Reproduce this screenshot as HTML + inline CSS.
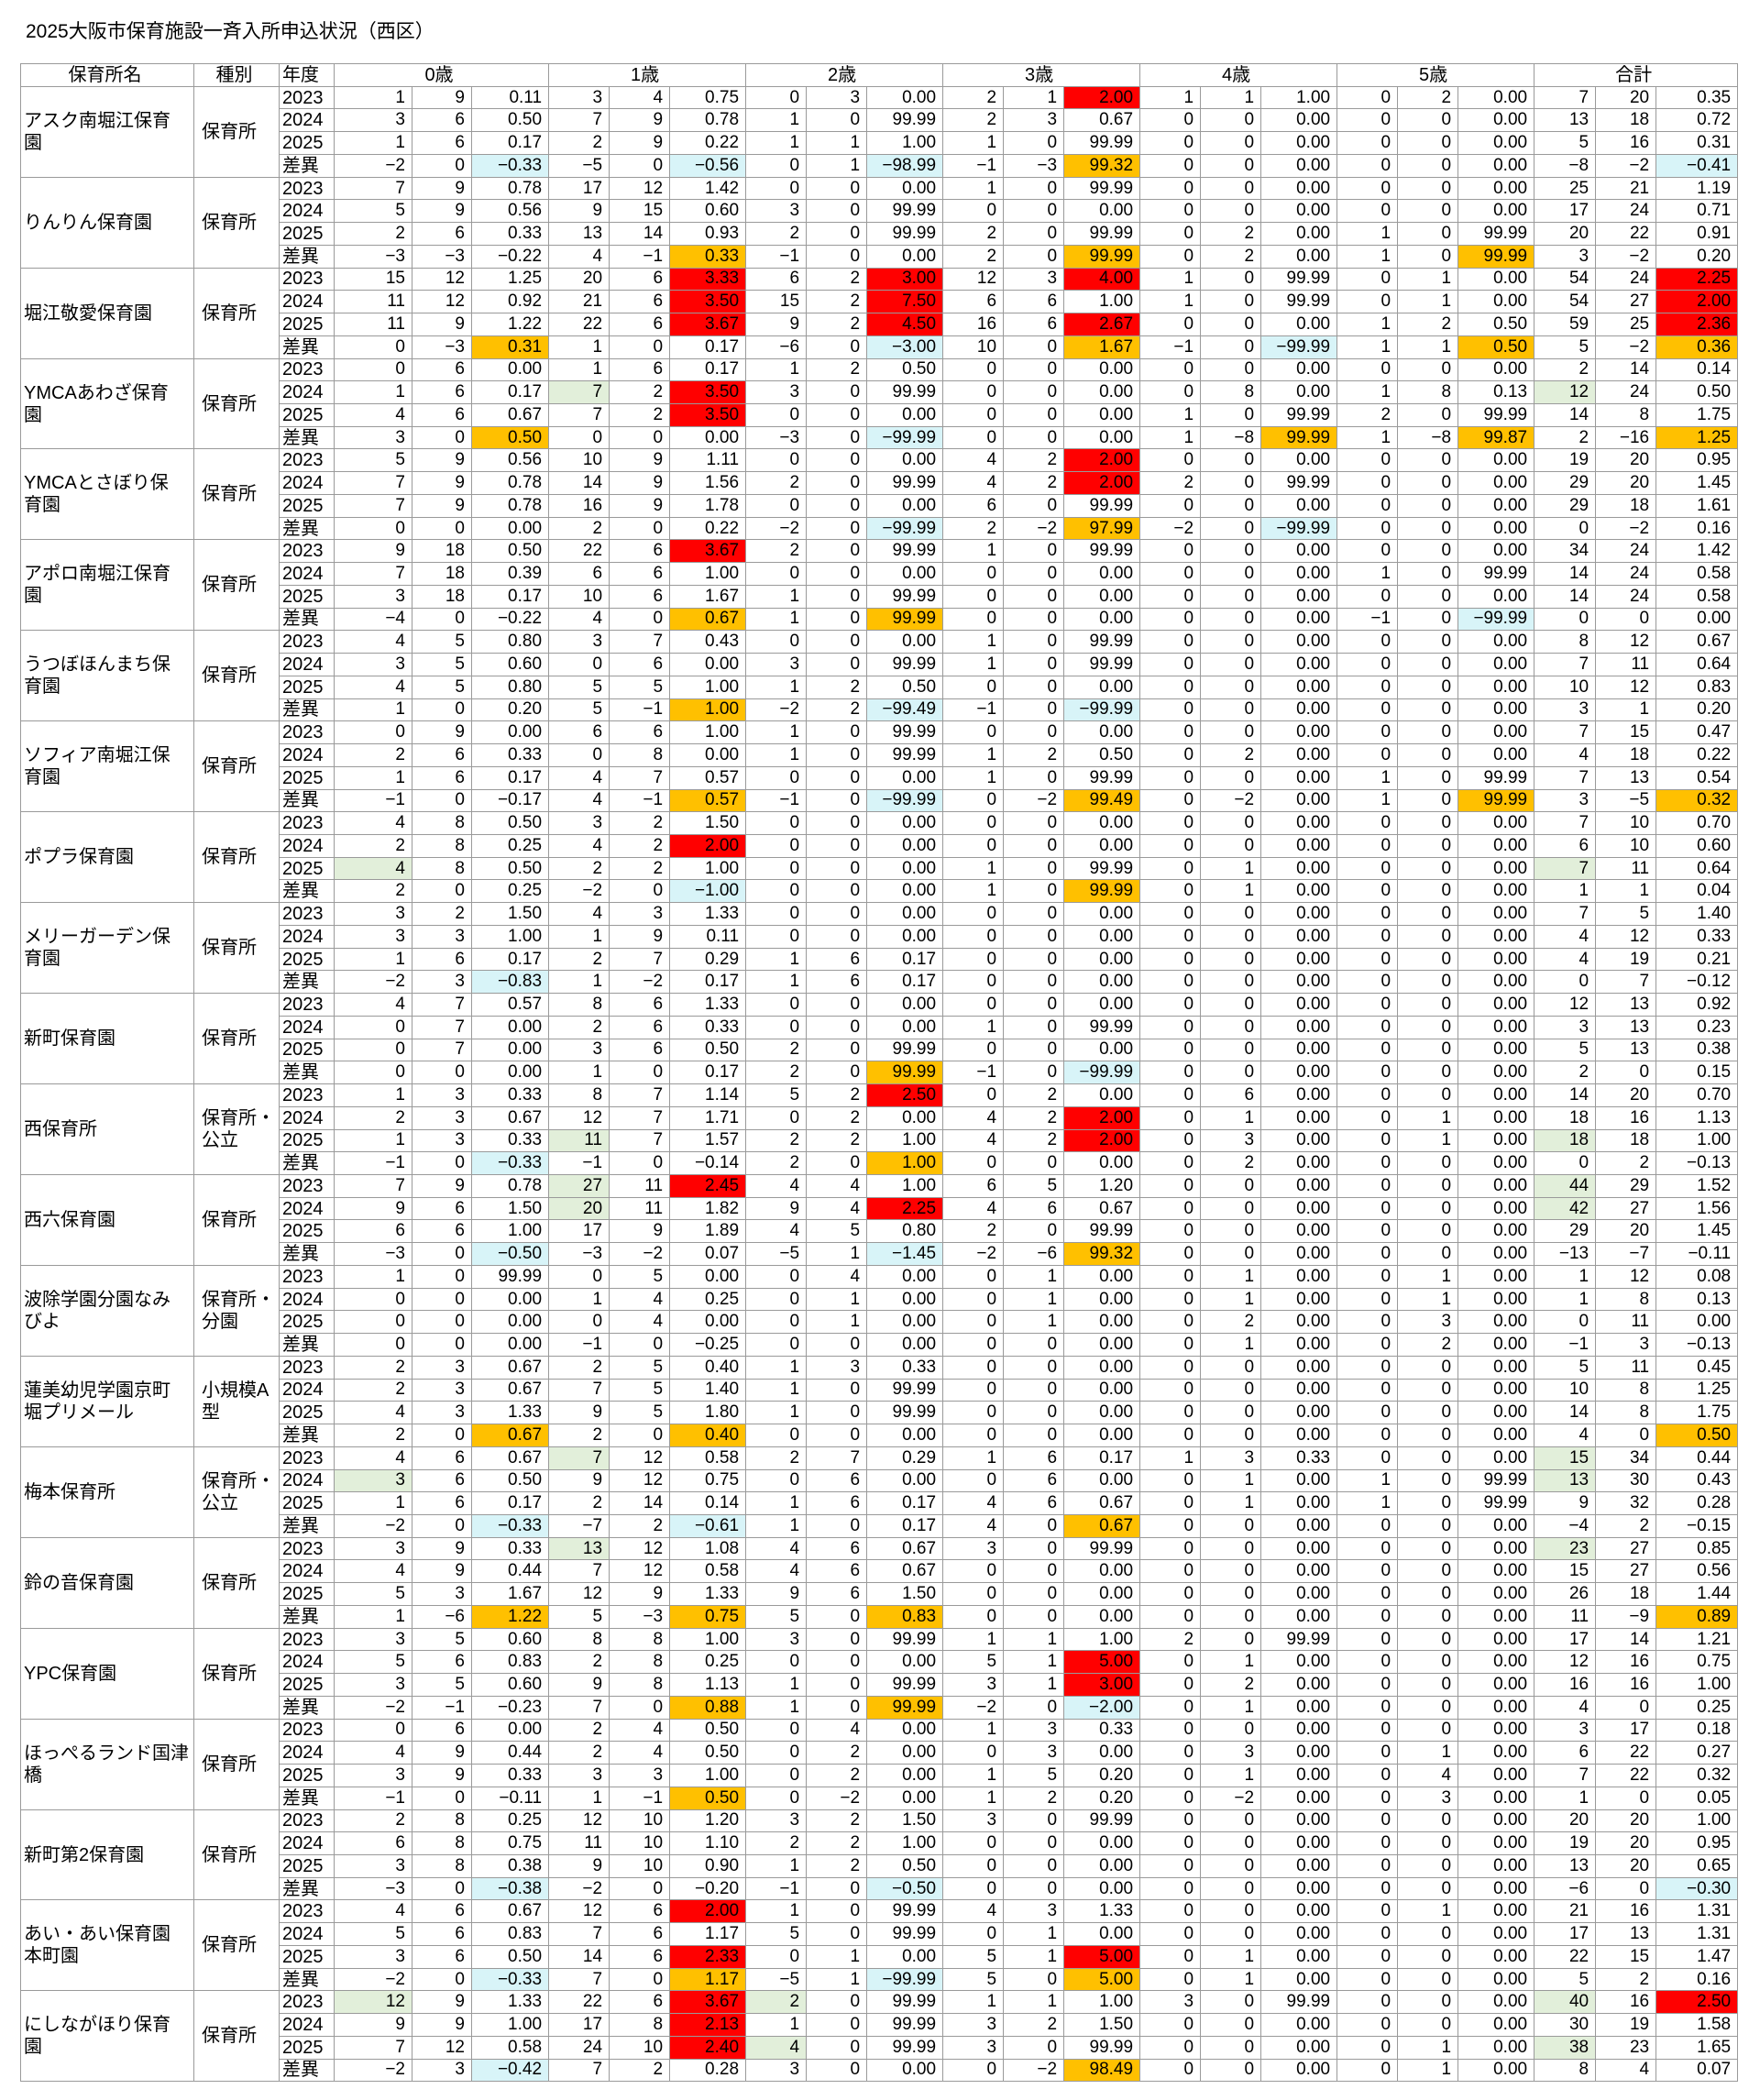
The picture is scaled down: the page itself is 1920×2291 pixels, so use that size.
<!DOCTYPE html>
<html><head><meta charset="utf-8"><style>
html,body{margin:0;padding:0;background:#fff}
body{width:1920px;height:2291px;position:relative;overflow:hidden;font-family:"Liberation Sans","Noto Sans CJK JP",sans-serif;color:#000}
.t{position:absolute;left:28px;top:18px;font-size:21px;font-family:"Liberation Sans","Noto Sans CJK JP",sans-serif}
table{position:absolute;left:22px;top:69px;width:1873px;border-collapse:collapse;table-layout:fixed;font-size:19px}
td{border:1px solid #9a9a9a;height:24.74px;padding:0 7px 0 2px;text-align:right;white-space:nowrap;overflow:hidden;line-height:20px;box-sizing:border-box}
tr.h td{text-align:center;font-size:20px}
tr.h td.nb{border-bottom:none}
td.y{text-align:left;padding-left:3px;font-size:20px}
td.n{text-align:left;font-size:20px;line-height:24px;padding-left:3px;border-top:1px solid #9a9a9a}
td.k{text-align:left;font-size:20px;line-height:24px;padding-left:8px}
.r{background:#ff0000}.o{background:#ffc000}.b{background:#d8f4f8}.g{background:#e2efda}
</style></head><body>
<div class="t">2025大阪市保育施設一斉入所申込状況（西区）</div>
<table>
<colgroup><col style="width:189px"><col style="width:93px"><col style="width:60px">
<col style="width:85px"><col style="width:65px"><col style="width:84px">
<col style="width:66px"><col style="width:66px"><col style="width:83px">
<col style="width:66px"><col style="width:66px"><col style="width:83px">
<col style="width:66px"><col style="width:66px"><col style="width:83px">
<col style="width:66px"><col style="width:66px"><col style="width:83px">
<col style="width:66px"><col style="width:66px"><col style="width:83px">
<col style="width:67px"><col style="width:66px"><col style="width:89px"></colgroup>
<tr class="h"><td class="nb">保育所名<td class="nb">種別<td style="text-align:left;padding-left:3px">年度<td colspan=3>0歳<td colspan=3>1歳<td colspan=3>2歳<td colspan=3>3歳<td colspan=3>4歳<td colspan=3>5歳<td colspan=3>合計
<tr><td rowspan=4 class="n">アスク南堀江保育<br>園<td rowspan=4 class="k">保育所<td class="y">2023<td>1<td>9<td>0.11<td>3<td>4<td>0.75<td>0<td>3<td>0.00<td>2<td>1<td class="r">2.00<td>1<td>1<td>1.00<td>0<td>2<td>0.00<td>7<td>20<td>0.35
<tr><td class="y">2024<td>3<td>6<td>0.50<td>7<td>9<td>0.78<td>1<td>0<td>99.99<td>2<td>3<td>0.67<td>0<td>0<td>0.00<td>0<td>0<td>0.00<td>13<td>18<td>0.72
<tr><td class="y">2025<td>1<td>6<td>0.17<td>2<td>9<td>0.22<td>1<td>1<td>1.00<td>1<td>0<td>99.99<td>0<td>0<td>0.00<td>0<td>0<td>0.00<td>5<td>16<td>0.31
<tr><td class="y">差異<td>−2<td>0<td class="b">−0.33<td>−5<td>0<td class="b">−0.56<td>0<td>1<td class="b">−98.99<td>−1<td>−3<td class="o">99.32<td>0<td>0<td>0.00<td>0<td>0<td>0.00<td>−8<td>−2<td class="b">−0.41
<tr><td rowspan=4 class="n">りんりん保育園<td rowspan=4 class="k">保育所<td class="y">2023<td>7<td>9<td>0.78<td>17<td>12<td>1.42<td>0<td>0<td>0.00<td>1<td>0<td>99.99<td>0<td>0<td>0.00<td>0<td>0<td>0.00<td>25<td>21<td>1.19
<tr><td class="y">2024<td>5<td>9<td>0.56<td>9<td>15<td>0.60<td>3<td>0<td>99.99<td>0<td>0<td>0.00<td>0<td>0<td>0.00<td>0<td>0<td>0.00<td>17<td>24<td>0.71
<tr><td class="y">2025<td>2<td>6<td>0.33<td>13<td>14<td>0.93<td>2<td>0<td>99.99<td>2<td>0<td>99.99<td>0<td>2<td>0.00<td>1<td>0<td>99.99<td>20<td>22<td>0.91
<tr><td class="y">差異<td>−3<td>−3<td>−0.22<td>4<td>−1<td class="o">0.33<td>−1<td>0<td>0.00<td>2<td>0<td class="o">99.99<td>0<td>2<td>0.00<td>1<td>0<td class="o">99.99<td>3<td>−2<td>0.20
<tr><td rowspan=4 class="n">堀江敬愛保育園<td rowspan=4 class="k">保育所<td class="y">2023<td>15<td>12<td>1.25<td>20<td>6<td class="r">3.33<td>6<td>2<td class="r">3.00<td>12<td>3<td class="r">4.00<td>1<td>0<td>99.99<td>0<td>1<td>0.00<td>54<td>24<td class="r">2.25
<tr><td class="y">2024<td>11<td>12<td>0.92<td>21<td>6<td class="r">3.50<td>15<td>2<td class="r">7.50<td>6<td>6<td>1.00<td>1<td>0<td>99.99<td>0<td>1<td>0.00<td>54<td>27<td class="r">2.00
<tr><td class="y">2025<td>11<td>9<td>1.22<td>22<td>6<td class="r">3.67<td>9<td>2<td class="r">4.50<td>16<td>6<td class="r">2.67<td>0<td>0<td>0.00<td>1<td>2<td>0.50<td>59<td>25<td class="r">2.36
<tr><td class="y">差異<td>0<td>−3<td class="o">0.31<td>1<td>0<td>0.17<td>−6<td>0<td class="b">−3.00<td>10<td>0<td class="o">1.67<td>−1<td>0<td class="b">−99.99<td>1<td>1<td class="o">0.50<td>5<td>−2<td class="o">0.36
<tr><td rowspan=4 class="n">YMCAあわざ保育<br>園<td rowspan=4 class="k">保育所<td class="y">2023<td>0<td>6<td>0.00<td>1<td>6<td>0.17<td>1<td>2<td>0.50<td>0<td>0<td>0.00<td>0<td>0<td>0.00<td>0<td>0<td>0.00<td>2<td>14<td>0.14
<tr><td class="y">2024<td>1<td>6<td>0.17<td class="g">7<td>2<td class="r">3.50<td>3<td>0<td>99.99<td>0<td>0<td>0.00<td>0<td>8<td>0.00<td>1<td>8<td>0.13<td class="g">12<td>24<td>0.50
<tr><td class="y">2025<td>4<td>6<td>0.67<td>7<td>2<td class="r">3.50<td>0<td>0<td>0.00<td>0<td>0<td>0.00<td>1<td>0<td>99.99<td>2<td>0<td>99.99<td>14<td>8<td>1.75
<tr><td class="y">差異<td>3<td>0<td class="o">0.50<td>0<td>0<td>0.00<td>−3<td>0<td class="b">−99.99<td>0<td>0<td>0.00<td>1<td>−8<td class="o">99.99<td>1<td>−8<td class="o">99.87<td>2<td>−16<td class="o">1.25
<tr><td rowspan=4 class="n">YMCAとさぼり保<br>育園<td rowspan=4 class="k">保育所<td class="y">2023<td>5<td>9<td>0.56<td>10<td>9<td>1.11<td>0<td>0<td>0.00<td>4<td>2<td class="r">2.00<td>0<td>0<td>0.00<td>0<td>0<td>0.00<td>19<td>20<td>0.95
<tr><td class="y">2024<td>7<td>9<td>0.78<td>14<td>9<td>1.56<td>2<td>0<td>99.99<td>4<td>2<td class="r">2.00<td>2<td>0<td>99.99<td>0<td>0<td>0.00<td>29<td>20<td>1.45
<tr><td class="y">2025<td>7<td>9<td>0.78<td>16<td>9<td>1.78<td>0<td>0<td>0.00<td>6<td>0<td>99.99<td>0<td>0<td>0.00<td>0<td>0<td>0.00<td>29<td>18<td>1.61
<tr><td class="y">差異<td>0<td>0<td>0.00<td>2<td>0<td>0.22<td>−2<td>0<td class="b">−99.99<td>2<td>−2<td class="o">97.99<td>−2<td>0<td class="b">−99.99<td>0<td>0<td>0.00<td>0<td>−2<td>0.16
<tr><td rowspan=4 class="n">アポロ南堀江保育<br>園<td rowspan=4 class="k">保育所<td class="y">2023<td>9<td>18<td>0.50<td>22<td>6<td class="r">3.67<td>2<td>0<td>99.99<td>1<td>0<td>99.99<td>0<td>0<td>0.00<td>0<td>0<td>0.00<td>34<td>24<td>1.42
<tr><td class="y">2024<td>7<td>18<td>0.39<td>6<td>6<td>1.00<td>0<td>0<td>0.00<td>0<td>0<td>0.00<td>0<td>0<td>0.00<td>1<td>0<td>99.99<td>14<td>24<td>0.58
<tr><td class="y">2025<td>3<td>18<td>0.17<td>10<td>6<td>1.67<td>1<td>0<td>99.99<td>0<td>0<td>0.00<td>0<td>0<td>0.00<td>0<td>0<td>0.00<td>14<td>24<td>0.58
<tr><td class="y">差異<td>−4<td>0<td>−0.22<td>4<td>0<td class="o">0.67<td>1<td>0<td class="o">99.99<td>0<td>0<td>0.00<td>0<td>0<td>0.00<td>−1<td>0<td class="b">−99.99<td>0<td>0<td>0.00
<tr><td rowspan=4 class="n">うつぼほんまち保<br>育園<td rowspan=4 class="k">保育所<td class="y">2023<td>4<td>5<td>0.80<td>3<td>7<td>0.43<td>0<td>0<td>0.00<td>1<td>0<td>99.99<td>0<td>0<td>0.00<td>0<td>0<td>0.00<td>8<td>12<td>0.67
<tr><td class="y">2024<td>3<td>5<td>0.60<td>0<td>6<td>0.00<td>3<td>0<td>99.99<td>1<td>0<td>99.99<td>0<td>0<td>0.00<td>0<td>0<td>0.00<td>7<td>11<td>0.64
<tr><td class="y">2025<td>4<td>5<td>0.80<td>5<td>5<td>1.00<td>1<td>2<td>0.50<td>0<td>0<td>0.00<td>0<td>0<td>0.00<td>0<td>0<td>0.00<td>10<td>12<td>0.83
<tr><td class="y">差異<td>1<td>0<td>0.20<td>5<td>−1<td class="o">1.00<td>−2<td>2<td class="b">−99.49<td>−1<td>0<td class="b">−99.99<td>0<td>0<td>0.00<td>0<td>0<td>0.00<td>3<td>1<td>0.20
<tr><td rowspan=4 class="n">ソフィア南堀江保<br>育園<td rowspan=4 class="k">保育所<td class="y">2023<td>0<td>9<td>0.00<td>6<td>6<td>1.00<td>1<td>0<td>99.99<td>0<td>0<td>0.00<td>0<td>0<td>0.00<td>0<td>0<td>0.00<td>7<td>15<td>0.47
<tr><td class="y">2024<td>2<td>6<td>0.33<td>0<td>8<td>0.00<td>1<td>0<td>99.99<td>1<td>2<td>0.50<td>0<td>2<td>0.00<td>0<td>0<td>0.00<td>4<td>18<td>0.22
<tr><td class="y">2025<td>1<td>6<td>0.17<td>4<td>7<td>0.57<td>0<td>0<td>0.00<td>1<td>0<td>99.99<td>0<td>0<td>0.00<td>1<td>0<td>99.99<td>7<td>13<td>0.54
<tr><td class="y">差異<td>−1<td>0<td>−0.17<td>4<td>−1<td class="o">0.57<td>−1<td>0<td class="b">−99.99<td>0<td>−2<td class="o">99.49<td>0<td>−2<td>0.00<td>1<td>0<td class="o">99.99<td>3<td>−5<td class="o">0.32
<tr><td rowspan=4 class="n">ポプラ保育園<td rowspan=4 class="k">保育所<td class="y">2023<td>4<td>8<td>0.50<td>3<td>2<td>1.50<td>0<td>0<td>0.00<td>0<td>0<td>0.00<td>0<td>0<td>0.00<td>0<td>0<td>0.00<td>7<td>10<td>0.70
<tr><td class="y">2024<td>2<td>8<td>0.25<td>4<td>2<td class="r">2.00<td>0<td>0<td>0.00<td>0<td>0<td>0.00<td>0<td>0<td>0.00<td>0<td>0<td>0.00<td>6<td>10<td>0.60
<tr><td class="y">2025<td class="g">4<td>8<td>0.50<td>2<td>2<td>1.00<td>0<td>0<td>0.00<td>1<td>0<td>99.99<td>0<td>1<td>0.00<td>0<td>0<td>0.00<td class="g">7<td>11<td>0.64
<tr><td class="y">差異<td>2<td>0<td>0.25<td>−2<td>0<td class="b">−1.00<td>0<td>0<td>0.00<td>1<td>0<td class="o">99.99<td>0<td>1<td>0.00<td>0<td>0<td>0.00<td>1<td>1<td>0.04
<tr><td rowspan=4 class="n">メリーガーデン保<br>育園<td rowspan=4 class="k">保育所<td class="y">2023<td>3<td>2<td>1.50<td>4<td>3<td>1.33<td>0<td>0<td>0.00<td>0<td>0<td>0.00<td>0<td>0<td>0.00<td>0<td>0<td>0.00<td>7<td>5<td>1.40
<tr><td class="y">2024<td>3<td>3<td>1.00<td>1<td>9<td>0.11<td>0<td>0<td>0.00<td>0<td>0<td>0.00<td>0<td>0<td>0.00<td>0<td>0<td>0.00<td>4<td>12<td>0.33
<tr><td class="y">2025<td>1<td>6<td>0.17<td>2<td>7<td>0.29<td>1<td>6<td>0.17<td>0<td>0<td>0.00<td>0<td>0<td>0.00<td>0<td>0<td>0.00<td>4<td>19<td>0.21
<tr><td class="y">差異<td>−2<td>3<td class="b">−0.83<td>1<td>−2<td>0.17<td>1<td>6<td>0.17<td>0<td>0<td>0.00<td>0<td>0<td>0.00<td>0<td>0<td>0.00<td>0<td>7<td>−0.12
<tr><td rowspan=4 class="n">新町保育園<td rowspan=4 class="k">保育所<td class="y">2023<td>4<td>7<td>0.57<td>8<td>6<td>1.33<td>0<td>0<td>0.00<td>0<td>0<td>0.00<td>0<td>0<td>0.00<td>0<td>0<td>0.00<td>12<td>13<td>0.92
<tr><td class="y">2024<td>0<td>7<td>0.00<td>2<td>6<td>0.33<td>0<td>0<td>0.00<td>1<td>0<td>99.99<td>0<td>0<td>0.00<td>0<td>0<td>0.00<td>3<td>13<td>0.23
<tr><td class="y">2025<td>0<td>7<td>0.00<td>3<td>6<td>0.50<td>2<td>0<td>99.99<td>0<td>0<td>0.00<td>0<td>0<td>0.00<td>0<td>0<td>0.00<td>5<td>13<td>0.38
<tr><td class="y">差異<td>0<td>0<td>0.00<td>1<td>0<td>0.17<td>2<td>0<td class="o">99.99<td>−1<td>0<td class="b">−99.99<td>0<td>0<td>0.00<td>0<td>0<td>0.00<td>2<td>0<td>0.15
<tr><td rowspan=4 class="n">西保育所<td rowspan=4 class="k">保育所・<br>公立<td class="y">2023<td>1<td>3<td>0.33<td>8<td>7<td>1.14<td>5<td>2<td class="r">2.50<td>0<td>2<td>0.00<td>0<td>6<td>0.00<td>0<td>0<td>0.00<td>14<td>20<td>0.70
<tr><td class="y">2024<td>2<td>3<td>0.67<td>12<td>7<td>1.71<td>0<td>2<td>0.00<td>4<td>2<td class="r">2.00<td>0<td>1<td>0.00<td>0<td>1<td>0.00<td>18<td>16<td>1.13
<tr><td class="y">2025<td>1<td>3<td>0.33<td class="g">11<td>7<td>1.57<td>2<td>2<td>1.00<td>4<td>2<td class="r">2.00<td>0<td>3<td>0.00<td>0<td>1<td>0.00<td class="g">18<td>18<td>1.00
<tr><td class="y">差異<td>−1<td>0<td class="b">−0.33<td>−1<td>0<td>−0.14<td>2<td>0<td class="o">1.00<td>0<td>0<td>0.00<td>0<td>2<td>0.00<td>0<td>0<td>0.00<td>0<td>2<td>−0.13
<tr><td rowspan=4 class="n">西六保育園<td rowspan=4 class="k">保育所<td class="y">2023<td>7<td>9<td>0.78<td class="g">27<td>11<td class="r">2.45<td>4<td>4<td>1.00<td>6<td>5<td>1.20<td>0<td>0<td>0.00<td>0<td>0<td>0.00<td class="g">44<td>29<td>1.52
<tr><td class="y">2024<td>9<td>6<td>1.50<td class="g">20<td>11<td>1.82<td>9<td>4<td class="r">2.25<td>4<td>6<td>0.67<td>0<td>0<td>0.00<td>0<td>0<td>0.00<td class="g">42<td>27<td>1.56
<tr><td class="y">2025<td>6<td>6<td>1.00<td>17<td>9<td>1.89<td>4<td>5<td>0.80<td>2<td>0<td>99.99<td>0<td>0<td>0.00<td>0<td>0<td>0.00<td>29<td>20<td>1.45
<tr><td class="y">差異<td>−3<td>0<td class="b">−0.50<td>−3<td>−2<td>0.07<td>−5<td>1<td class="b">−1.45<td>−2<td>−6<td class="o">99.32<td>0<td>0<td>0.00<td>0<td>0<td>0.00<td>−13<td>−7<td>−0.11
<tr><td rowspan=4 class="n">波除学園分園なみ<br>びよ<td rowspan=4 class="k">保育所・<br>分園<td class="y">2023<td>1<td>0<td>99.99<td>0<td>5<td>0.00<td>0<td>4<td>0.00<td>0<td>1<td>0.00<td>0<td>1<td>0.00<td>0<td>1<td>0.00<td>1<td>12<td>0.08
<tr><td class="y">2024<td>0<td>0<td>0.00<td>1<td>4<td>0.25<td>0<td>1<td>0.00<td>0<td>1<td>0.00<td>0<td>1<td>0.00<td>0<td>1<td>0.00<td>1<td>8<td>0.13
<tr><td class="y">2025<td>0<td>0<td>0.00<td>0<td>4<td>0.00<td>0<td>1<td>0.00<td>0<td>1<td>0.00<td>0<td>2<td>0.00<td>0<td>3<td>0.00<td>0<td>11<td>0.00
<tr><td class="y">差異<td>0<td>0<td>0.00<td>−1<td>0<td>−0.25<td>0<td>0<td>0.00<td>0<td>0<td>0.00<td>0<td>1<td>0.00<td>0<td>2<td>0.00<td>−1<td>3<td>−0.13
<tr><td rowspan=4 class="n">蓮美幼児学園京町<br>堀プリメール<td rowspan=4 class="k">小規模A<br>型<td class="y">2023<td>2<td>3<td>0.67<td>2<td>5<td>0.40<td>1<td>3<td>0.33<td>0<td>0<td>0.00<td>0<td>0<td>0.00<td>0<td>0<td>0.00<td>5<td>11<td>0.45
<tr><td class="y">2024<td>2<td>3<td>0.67<td>7<td>5<td>1.40<td>1<td>0<td>99.99<td>0<td>0<td>0.00<td>0<td>0<td>0.00<td>0<td>0<td>0.00<td>10<td>8<td>1.25
<tr><td class="y">2025<td>4<td>3<td>1.33<td>9<td>5<td>1.80<td>1<td>0<td>99.99<td>0<td>0<td>0.00<td>0<td>0<td>0.00<td>0<td>0<td>0.00<td>14<td>8<td>1.75
<tr><td class="y">差異<td>2<td>0<td class="o">0.67<td>2<td>0<td class="o">0.40<td>0<td>0<td>0.00<td>0<td>0<td>0.00<td>0<td>0<td>0.00<td>0<td>0<td>0.00<td>4<td>0<td class="o">0.50
<tr><td rowspan=4 class="n">梅本保育所<td rowspan=4 class="k">保育所・<br>公立<td class="y">2023<td>4<td>6<td>0.67<td class="g">7<td>12<td>0.58<td>2<td>7<td>0.29<td>1<td>6<td>0.17<td>1<td>3<td>0.33<td>0<td>0<td>0.00<td class="g">15<td>34<td>0.44
<tr><td class="y">2024<td class="g">3<td>6<td>0.50<td>9<td>12<td>0.75<td>0<td>6<td>0.00<td>0<td>6<td>0.00<td>0<td>1<td>0.00<td>1<td>0<td>99.99<td class="g">13<td>30<td>0.43
<tr><td class="y">2025<td>1<td>6<td>0.17<td>2<td>14<td>0.14<td>1<td>6<td>0.17<td>4<td>6<td>0.67<td>0<td>1<td>0.00<td>1<td>0<td>99.99<td>9<td>32<td>0.28
<tr><td class="y">差異<td>−2<td>0<td class="b">−0.33<td>−7<td>2<td class="b">−0.61<td>1<td>0<td>0.17<td>4<td>0<td class="o">0.67<td>0<td>0<td>0.00<td>0<td>0<td>0.00<td>−4<td>2<td>−0.15
<tr><td rowspan=4 class="n">鈴の音保育園<td rowspan=4 class="k">保育所<td class="y">2023<td>3<td>9<td>0.33<td class="g">13<td>12<td>1.08<td>4<td>6<td>0.67<td>3<td>0<td>99.99<td>0<td>0<td>0.00<td>0<td>0<td>0.00<td class="g">23<td>27<td>0.85
<tr><td class="y">2024<td>4<td>9<td>0.44<td>7<td>12<td>0.58<td>4<td>6<td>0.67<td>0<td>0<td>0.00<td>0<td>0<td>0.00<td>0<td>0<td>0.00<td>15<td>27<td>0.56
<tr><td class="y">2025<td>5<td>3<td>1.67<td>12<td>9<td>1.33<td>9<td>6<td>1.50<td>0<td>0<td>0.00<td>0<td>0<td>0.00<td>0<td>0<td>0.00<td>26<td>18<td>1.44
<tr><td class="y">差異<td>1<td>−6<td class="o">1.22<td>5<td>−3<td class="o">0.75<td>5<td>0<td class="o">0.83<td>0<td>0<td>0.00<td>0<td>0<td>0.00<td>0<td>0<td>0.00<td>11<td>−9<td class="o">0.89
<tr><td rowspan=4 class="n">YPC保育園<td rowspan=4 class="k">保育所<td class="y">2023<td>3<td>5<td>0.60<td>8<td>8<td>1.00<td>3<td>0<td>99.99<td>1<td>1<td>1.00<td>2<td>0<td>99.99<td>0<td>0<td>0.00<td>17<td>14<td>1.21
<tr><td class="y">2024<td>5<td>6<td>0.83<td>2<td>8<td>0.25<td>0<td>0<td>0.00<td>5<td>1<td class="r">5.00<td>0<td>1<td>0.00<td>0<td>0<td>0.00<td>12<td>16<td>0.75
<tr><td class="y">2025<td>3<td>5<td>0.60<td>9<td>8<td>1.13<td>1<td>0<td>99.99<td>3<td>1<td class="r">3.00<td>0<td>2<td>0.00<td>0<td>0<td>0.00<td>16<td>16<td>1.00
<tr><td class="y">差異<td>−2<td>−1<td>−0.23<td>7<td>0<td class="o">0.88<td>1<td>0<td class="o">99.99<td>−2<td>0<td class="b">−2.00<td>0<td>1<td>0.00<td>0<td>0<td>0.00<td>4<td>0<td>0.25
<tr><td rowspan=4 class="n">ほっぺるランド国津<br>橋<td rowspan=4 class="k">保育所<td class="y">2023<td>0<td>6<td>0.00<td>2<td>4<td>0.50<td>0<td>4<td>0.00<td>1<td>3<td>0.33<td>0<td>0<td>0.00<td>0<td>0<td>0.00<td>3<td>17<td>0.18
<tr><td class="y">2024<td>4<td>9<td>0.44<td>2<td>4<td>0.50<td>0<td>2<td>0.00<td>0<td>3<td>0.00<td>0<td>3<td>0.00<td>0<td>1<td>0.00<td>6<td>22<td>0.27
<tr><td class="y">2025<td>3<td>9<td>0.33<td>3<td>3<td>1.00<td>0<td>2<td>0.00<td>1<td>5<td>0.20<td>0<td>1<td>0.00<td>0<td>4<td>0.00<td>7<td>22<td>0.32
<tr><td class="y">差異<td>−1<td>0<td>−0.11<td>1<td>−1<td class="o">0.50<td>0<td>−2<td>0.00<td>1<td>2<td>0.20<td>0<td>−2<td>0.00<td>0<td>3<td>0.00<td>1<td>0<td>0.05
<tr><td rowspan=4 class="n">新町第2保育園<td rowspan=4 class="k">保育所<td class="y">2023<td>2<td>8<td>0.25<td>12<td>10<td>1.20<td>3<td>2<td>1.50<td>3<td>0<td>99.99<td>0<td>0<td>0.00<td>0<td>0<td>0.00<td>20<td>20<td>1.00
<tr><td class="y">2024<td>6<td>8<td>0.75<td>11<td>10<td>1.10<td>2<td>2<td>1.00<td>0<td>0<td>0.00<td>0<td>0<td>0.00<td>0<td>0<td>0.00<td>19<td>20<td>0.95
<tr><td class="y">2025<td>3<td>8<td>0.38<td>9<td>10<td>0.90<td>1<td>2<td>0.50<td>0<td>0<td>0.00<td>0<td>0<td>0.00<td>0<td>0<td>0.00<td>13<td>20<td>0.65
<tr><td class="y">差異<td>−3<td>0<td class="b">−0.38<td>−2<td>0<td>−0.20<td>−1<td>0<td class="b">−0.50<td>0<td>0<td>0.00<td>0<td>0<td>0.00<td>0<td>0<td>0.00<td>−6<td>0<td class="b">−0.30
<tr><td rowspan=4 class="n">あい・あい保育園<br>本町園<td rowspan=4 class="k">保育所<td class="y">2023<td>4<td>6<td>0.67<td>12<td>6<td class="r">2.00<td>1<td>0<td>99.99<td>4<td>3<td>1.33<td>0<td>0<td>0.00<td>0<td>1<td>0.00<td>21<td>16<td>1.31
<tr><td class="y">2024<td>5<td>6<td>0.83<td>7<td>6<td>1.17<td>5<td>0<td>99.99<td>0<td>1<td>0.00<td>0<td>0<td>0.00<td>0<td>0<td>0.00<td>17<td>13<td>1.31
<tr><td class="y">2025<td>3<td>6<td>0.50<td>14<td>6<td class="r">2.33<td>0<td>1<td>0.00<td>5<td>1<td class="r">5.00<td>0<td>1<td>0.00<td>0<td>0<td>0.00<td>22<td>15<td>1.47
<tr><td class="y">差異<td>−2<td>0<td class="b">−0.33<td>7<td>0<td class="o">1.17<td>−5<td>1<td class="b">−99.99<td>5<td>0<td class="o">5.00<td>0<td>1<td>0.00<td>0<td>0<td>0.00<td>5<td>2<td>0.16
<tr><td rowspan=4 class="n">にしながほり保育<br>園<td rowspan=4 class="k">保育所<td class="y">2023<td class="g">12<td>9<td>1.33<td>22<td>6<td class="r">3.67<td class="g">2<td>0<td>99.99<td>1<td>1<td>1.00<td>3<td>0<td>99.99<td>0<td>0<td>0.00<td class="g">40<td>16<td class="r">2.50
<tr><td class="y">2024<td>9<td>9<td>1.00<td>17<td>8<td class="r">2.13<td>1<td>0<td>99.99<td>3<td>2<td>1.50<td>0<td>0<td>0.00<td>0<td>0<td>0.00<td>30<td>19<td>1.58
<tr><td class="y">2025<td>7<td>12<td>0.58<td>24<td>10<td class="r">2.40<td class="g">4<td>0<td>99.99<td>3<td>0<td>99.99<td>0<td>0<td>0.00<td>0<td>1<td>0.00<td class="g">38<td>23<td>1.65
<tr><td class="y">差異<td>−2<td>3<td class="b">−0.42<td>7<td>2<td>0.28<td>3<td>0<td>0.00<td>0<td>−2<td class="o">98.49<td>0<td>0<td>0.00<td>0<td>1<td>0.00<td>8<td>4<td>0.07
</table>
</body></html>
